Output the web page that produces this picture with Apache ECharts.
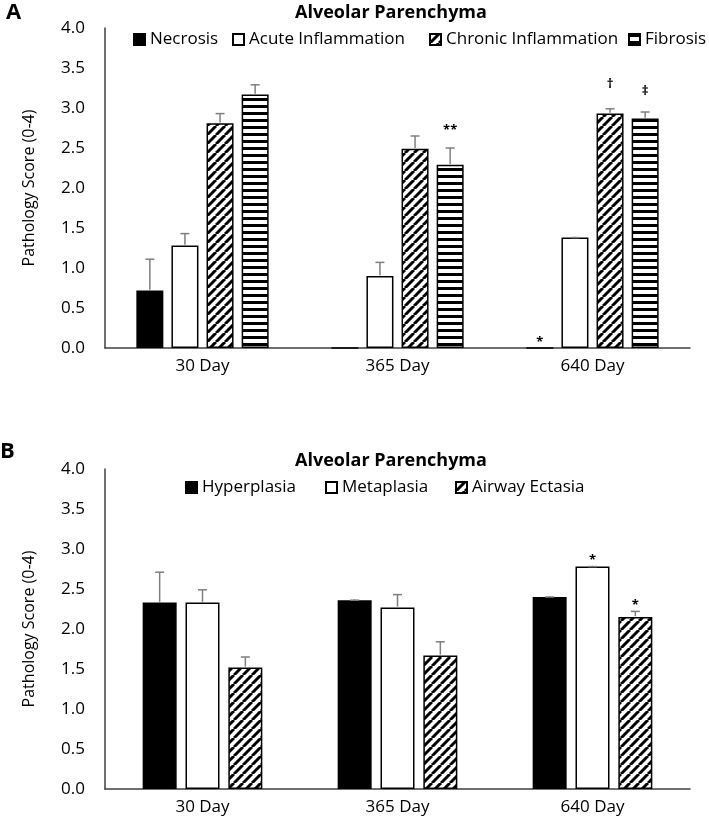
<!DOCTYPE html>
<html><head><meta charset="utf-8">
<script src="https://cdn.jsdelivr.net/npm/echarts@6/dist/echarts.min.js"></script>
<style>html,body{margin:0;padding:0;background:#fff}#c{width:709px;height:826px}</style>
</head><body><div id="c"></div>
<script>
// ---------- data ----------
const categories = ['30 Day', '365 Day', '640 Day'];
const yTicks = [0, 4, 0.5]; // min, max, interval

// Panel A
const namesA = ['Necrosis', 'Acute Inflammation', 'Chronic Inflammation', 'Fibrosis'];
const necrosis = [0.72, 0, 0];
const acuteInfl = [1.28, 0.90, 1.38];
const chronicInfl = [2.81, 2.49, 2.93];
const fibrosis = [3.17, 2.29, 2.87];
const necrosisErr = [0.39, null, null];
const acuteInflErr = [0.15, 0.17, 0];
const chronicInflErr = [0.12, 0.16, 0.06];
const fibrosisErr = [0.12, 0.21, 0.08];
const marksA = [
  { s: 3, c: 1, t: '**' },
  { s: 2, c: 2, t: '\u2020' },
  { s: 3, c: 2, t: '\u2021' },
  { s: 0, c: 2, t: '*' }
];

// Panel B
const namesB = ['Hyperplasia', 'Metaplasia', 'Airway Ectasia'];
const hyperplasia = [2.33, 2.36, 2.40];
const metaplasia = [2.33, 2.27, 2.78];
const ectasia = [1.52, 1.67, 2.15];
const hyperplasiaErr = [0.38, 0, 0];
const metaplasiaErr = [0.16, 0.16, 0];
const ectasiaErr = [0.13, 0.17, 0.07];
const marksB = [
  { s: 1, c: 2, t: '*' },
  { s: 2, c: 2, t: '*' }
];

// ---------- styling ----------
const FONT = '"Open Sans"';
const AXIS_COL = '#404040';
const ERR_COL = '#7f7f7f';
const LEG_X_A = [133, 232, 429, 628];
const LEG_X_B = [185, 325, 455];
const MARK_LIFT = { '**': 18, '\u2020': 25, '\u2021': 21, '*': 6 };

function diagPattern() {
  const s = 9, cv = document.createElement('canvas');
  cv.width = s; cv.height = s;
  const g = cv.getContext('2d');
  g.fillStyle = '#fff'; g.fillRect(0, 0, s, s);
  g.strokeStyle = '#000'; g.lineWidth = 3;
  for (let k = -1; k <= 1; k++) {
    g.beginPath(); g.moveTo(k * s, s); g.lineTo(k * s + s, 0); g.stroke();
  }
  return { image: cv, repeat: 'repeat' };
}
function horizPattern() {
  const cv = document.createElement('canvas');
  cv.width = 4; cv.height = 7;
  const g = cv.getContext('2d');
  g.fillStyle = '#fff'; g.fillRect(0, 0, 4, 7);
  g.fillStyle = '#000'; g.fillRect(0, 0, 4, 3);
  return { image: cv, repeat: 'repeat' };
}

const fillsA = ['#000', '#fff', diagPattern(), horizPattern()];
const fillsB = ['#000', '#fff', diagPattern()];

function barSeries(names, datas, fills, gi, barW, gap) {
  return names.map((n, i) => ({
    name: n, type: 'bar', xAxisIndex: gi, yAxisIndex: gi,
    data: datas[i], barWidth: barW, barGap: gap,
    itemStyle: { color: fills[i], borderColor: '#000', borderWidth: 1.5 },
    emphasis: { disabled: true }, z: 2
  }));
}

function errSeries(datas, errs, gi, barW, gapPx) {
  const n = datas.length;
  const out = [];
  datas.forEach((d, si) => {
    const pts = [];
    d.forEach((v, ci) => { if (errs[si][ci] != null) pts.push([ci, v, v + errs[si][ci], si]); });
    out.push({
      type: 'custom', xAxisIndex: gi, yAxisIndex: gi, silent: true, z: 5,
      data: pts,
      renderItem: function (params, api) {
        const s = api.value(3);
        const b = api.coord([api.value(0), api.value(1)]);
        const t = api.coord([api.value(0), api.value(2)]);
        const x = b[0] + (s - (n - 1) / 2) * (barW + gapPx);
        const st = { stroke: ERR_COL, lineWidth: 1.5 };
        return { type: 'group', children: [
          { type: 'line', shape: { x1: x, y1: b[1] - 0.75, x2: x, y2: t[1] }, style: st },
          { type: 'line', shape: { x1: x - 4.5, y1: t[1], x2: x + 4.5, y2: t[1] }, style: st }
        ]};
      }
    });
  });
  return out;
}

function markSeries(marks, datas, errs, gi, barW, gapPx) {
  const n = datas.length;
  return {
    type: 'custom', xAxisIndex: gi, yAxisIndex: gi, silent: true, z: 6,
    data: marks.map(m => [m.c, datas[m.s][m.c] + (errs[m.s][m.c] || 0), m.s]),
    renderItem: function (params, api) {
      const s = api.value(2);
      const p = api.coord([api.value(0), api.value(1)]);
      const x = p[0] + (s - (n - 1) / 2) * (barW + gapPx);
      const txt = marks[params.dataIndex].t;
      return { type: 'text', style: {
        text: txt, x: x, y: p[1] - MARK_LIFT[txt], textAlign: 'center', textVerticalAlign: 'middle',
        fontFamily: FONT, fontSize: 13, fontWeight: 'bold', fill: '#000'
      }};
    }
  };
}

function yAxis(gi) {
  return {
    type: 'value', gridIndex: gi, min: yTicks[0], max: yTicks[1], interval: yTicks[2],
    name: 'Pathology Score (0-4)', nameLocation: 'middle', nameGap: 68, nameRotate: 90,
    nameTextStyle: { fontFamily: FONT, fontSize: 16, color: '#000' },
    axisLine: { show: true, lineStyle: { color: AXIS_COL, width: 1.5 } },
    axisTick: { show: false }, splitLine: { show: false },
    axisLabel: { formatter: v => v.toFixed(1), fontFamily: FONT, fontSize: 17, color: '#000', margin: 20 }
  };
}
function xAxis(gi) {
  return {
    type: 'category', gridIndex: gi, data: categories,
    axisLine: { lineStyle: { color: AXIS_COL, width: 1.5 } },
    axisTick: { show: false },
    axisLabel: { fontFamily: FONT, fontSize: 17, color: '#000', margin: 10 }
  };
}
function legends(names, xs, top) {
  return names.map((n, i) => ({
    data: [n], left: xs[i], top: top, padding: 0, itemWidth: 11, itemHeight: 11, icon: 'rect',
    selectedMode: false, textStyle: { fontFamily: FONT, fontSize: 17, color: '#000' }
  }));
}

const datasA = [necrosis, acuteInfl, chronicInfl, fibrosis];
const errsA = [necrosisErr, acuteInflErr, chronicInflErr, fibrosisErr];
const datasB = [hyperplasia, metaplasia, ectasia];
const errsB = [hyperplasiaErr, metaplasiaErr, ectasiaErr];

const BW_A = 27, GAP_A = 0.3, BW_B = 34, GAP_B = 0.26;

const chart = echarts.init(document.getElementById('c'));
chart.setOption({
  animation: false,
  backgroundColor: '#fff',
  textStyle: { fontFamily: FONT },
  grid: [
    { left: 105, top: 28, width: 585, height: 320 },
    { left: 105, top: 469, width: 585, height: 320 }
  ],
  xAxis: [xAxis(0), xAxis(1)],
  yAxis: [yAxis(0), yAxis(1)],
  legend: [...legends(namesA, LEG_X_A, 31), ...legends(namesB, LEG_X_B, 479)],
  graphic: [
    { type: 'text', left: 6, top: 2, style: { text: 'A', fontFamily: FONT, fontSize: 22, fontWeight: 'bold', fill: '#000' } },
    { type: 'text', left: 0, top: 441, style: { text: 'B', fontFamily: FONT, fontSize: 22, fontWeight: 'bold', fill: '#000' } },
    { type: 'text', x: 391, y: 13, style: { text: 'Alveolar Parenchyma', textAlign: 'center', textVerticalAlign: 'middle', fontFamily: FONT, fontSize: 18, fontWeight: 'bold', fill: '#000' } },
    { type: 'text', x: 391, y: 461, style: { text: 'Alveolar Parenchyma', textAlign: 'center', textVerticalAlign: 'middle', fontFamily: FONT, fontSize: 18, fontWeight: 'bold', fill: '#000' } }
  ],
  series: [
    ...barSeries(namesA, datasA, fillsA, 0, BW_A, (GAP_A * 100) + '%'),
    ...barSeries(namesB, datasB, fillsB, 1, BW_B, (GAP_B * 100) + '%'),
    ...errSeries(datasA, errsA, 0, BW_A, BW_A * GAP_A),
    ...errSeries(datasB, errsB, 1, BW_B, BW_B * GAP_B),
    markSeries(marksA, datasA, errsA, 0, BW_A, BW_A * GAP_A),
    markSeries(marksB, datasB, errsB, 1, BW_B, BW_B * GAP_B)
  ]
});
</script></body></html>
